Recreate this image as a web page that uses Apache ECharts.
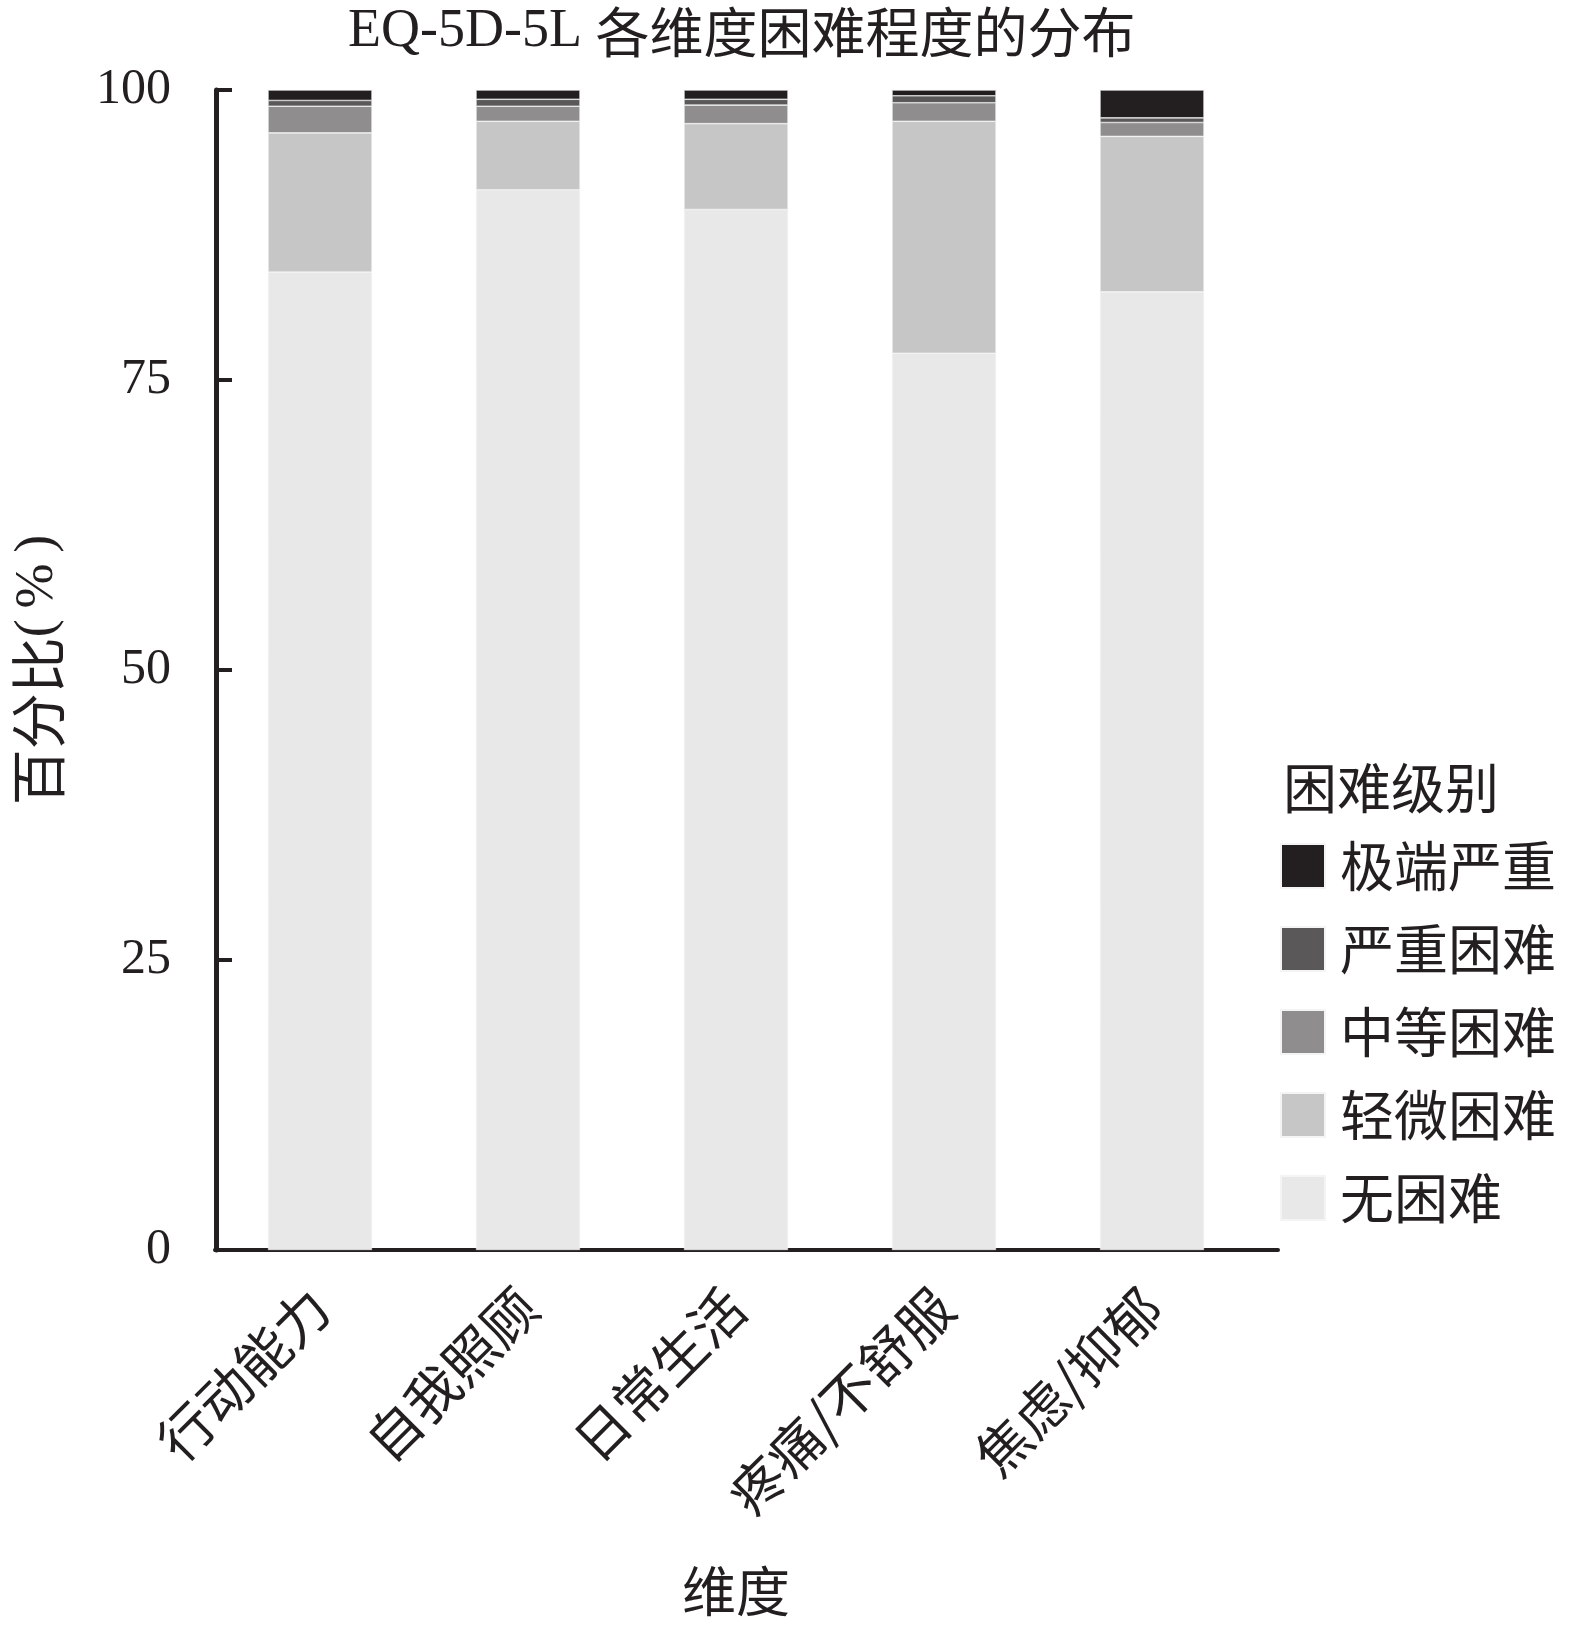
<!DOCTYPE html>
<html>
<head>
<meta charset="utf-8">
<script src="https://cdn.jsdelivr.net/npm/echarts@6/dist/echarts.min.js"></script>
<style>
html,body{margin:0;padding:0;background:#fff;}
#chart{width:1575px;height:1631px;}
</style>
</head>
<body>
<div id="chart"></div>
<script>
const categories = ['行动能力', '自我照顾', '日常生活', '疼痛/不舒服', '焦虑/抑郁'];
const noProblem = [84.3, 91.4, 89.7, 77.3, 82.6];
const slight = [12.0, 5.9, 7.4, 20.0, 13.4];
const moderate = [2.3, 1.3, 1.6, 1.6, 1.2];
const severe = [0.5, 0.6, 0.5, 0.6, 0.4];
const extreme = [0.9, 0.8, 0.8, 0.5, 2.4];
const yTicks = [0, 25, 50, 75, 100];

const CJK = "'Noto Sans CJK SC', sans-serif";
const SERIF = "'Liberation Serif', serif";
const INK = '#231f20';

const levels = [
  {name: '无困难', data: noProblem, color: '#e8e8e8'},
  {name: '轻微困难', data: slight, color: '#c6c6c6'},
  {name: '中等困难', data: moderate, color: '#8f8d8e'},
  {name: '严重困难', data: severe, color: '#5a5859'},
  {name: '极端严重', data: extreme, color: '#231f20'}
];

const chart = echarts.init(document.getElementById('chart'), null, {renderer: 'canvas'});
chart.setOption({
  backgroundColor: '#fff',
  animation: false,
  title: [
    {text: '{a|EQ-5D-5L }{b|各维度困难程度的分布}', left: 343, top: 0,
     textStyle: {fontSize: 54, fontWeight: 'normal', color: INK,
       rich: {a: {fontFamily: SERIF, fontSize: 54, color: INK},
              b: {fontFamily: CJK, fontSize: 54, color: INK}}}},
    {text: '困难级别', left: 1278, top: 756,
     textStyle: {fontFamily: CJK, fontSize: 54, fontWeight: 'normal', color: INK}}
  ],
  legend: {
    data: ['极端严重', '严重困难', '中等困难', '轻微困难', '无困难'],
    orient: 'vertical', left: 1280, top: 839, padding: 0,
    itemWidth: 44, itemHeight: 44, itemGap: 29,
    icon: 'rect',
    textStyle: {fontFamily: CJK, fontSize: 54, color: INK, padding: [0, 0, 0, 10]}
  },
  grid: [
    {left: 216, right: 319, top: 90, bottom: 381},
    {left: 215, right: 297, top: 90, bottom: 381}
  ],
  xAxis: [
    {type: 'category', gridIndex: 0, data: categories,
     name: '维度', nameLocation: 'middle', nameGap: 314,
     nameTextStyle: {fontFamily: CJK, fontSize: 54, color: INK},
     axisLine: {show: false},
     axisTick: {show: true, inside: true, alignWithLabel: true, length: 14, lineStyle: {color: INK, width: 2}},
     axisLabel: {rotate: 45, interval: 0, margin: 48, fontFamily: CJK, fontSize: 54, color: INK}},
    {type: 'value', gridIndex: 1, min: 0, max: 1,
     axisLine: {show: true, lineStyle: {color: INK, width: 4}},
     axisTick: {show: false}, axisLabel: {show: false}, splitLine: {show: false}}
  ],
  yAxis: [
    {type: 'value', gridIndex: 0, min: 0, max: 100, interval: 25,
     name: '{a|百分比}{b|(\u2009%\u2009)}', nameLocation: 'middle', nameGap: 150, nameRotate: 90,
     nameTextStyle: {fontSize: 54, color: INK,
       rich: {a: {fontFamily: CJK, fontSize: 56, color: INK},
              b: {fontFamily: SERIF, fontSize: 54, color: INK}}},
     axisLine: {show: true, onZero: false, lineStyle: {color: INK, width: 5}},
     axisTick: {show: true, inside: true, length: 16, lineStyle: {color: INK, width: 4}},
     axisLabel: {margin: 45, fontFamily: SERIF, fontSize: 50, color: INK,
       formatter: v => yTicks.includes(v) ? String(v) : ''},
     splitLine: {show: false}},
    {type: 'value', gridIndex: 1, min: 0, max: 1, show: false}
  ],
  series: levels.map(l => ({
    name: l.name, type: 'bar', stack: 'total', barWidth: 104,
    xAxisIndex: 0, yAxisIndex: 0,
    data: l.data,
    itemStyle: {color: l.color, borderColor: '#f4f4f4', borderWidth: 0.6}
  }))
});
</script>
</body>
</html>
